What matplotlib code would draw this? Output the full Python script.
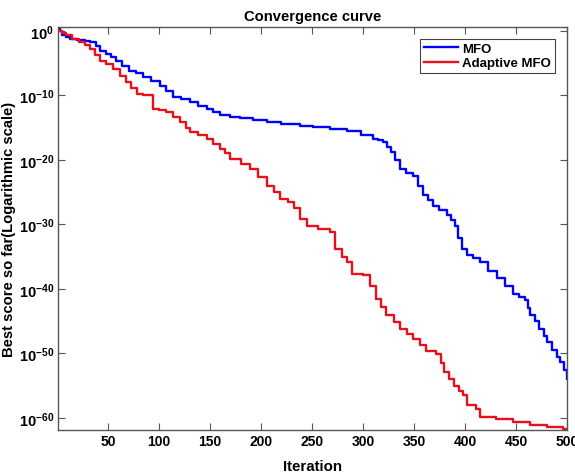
import numpy as np
import matplotlib
matplotlib.use("Agg")
import matplotlib.pyplot as plt

# ---- data (iteration, log10 of best score) ----
blue_iter = [1, 3, 5, 9, 13, 20, 27, 32, 38, 42, 48, 53, 58, 64, 71, 77, 84, 92, 101, 107,
             114, 122, 130, 138, 147, 153, 160, 170, 179, 192, 206, 220, 238, 251, 268, 284,
             298, 310, 315, 320, 324, 327, 331, 336, 342, 349, 354, 359, 364, 369, 375, 382,
             386, 390, 393, 397, 402, 408, 415, 423, 431, 439, 447, 453, 459, 462, 464, 469,
             473, 477, 480, 485, 490, 493, 497, 500]
blue_exp = [0.6, 0.0, -0.7, -1.0, -1.2, -1.4, -1.6, -1.75, -2.4, -3.05, -3.6, -4.0, -4.6, -5.4,
            -6.15, -6.6, -7.1, -7.8, -8.5, -9.3, -10.2, -10.6, -11.0, -11.6, -12.1, -12.6, -13.0,
            -13.3, -13.5, -13.8, -14.1, -14.4, -14.7, -14.9, -15.2, -15.6, -16.1, -16.7, -17.0,
            -17.3, -18.0, -18.8, -20.0, -21.4, -22.0, -22.5, -24.0, -25.5, -26.3, -27.1, -27.8,
            -28.6, -29.4, -30.2, -32.2, -33.8, -34.8, -35.3, -35.9, -37.2, -38.4, -39.6, -40.8,
            -41.3, -41.8, -43.0, -44.1, -45.0, -46.2, -47.3, -48.3, -49.5, -50.6, -51.3, -52.6,
            -54.0]

red_iter = [1, 5, 9, 15, 22, 27, 32, 37, 42, 48, 55, 62, 68, 73, 78, 84, 91, 94, 100, 107,
            114, 121, 126, 130, 138, 147, 153, 160, 165, 170, 180, 189, 197, 206, 213, 219,
            226, 232, 238, 245, 256, 268, 273, 279, 284, 289, 300, 307, 313, 318, 323, 330,
            336, 343, 349, 356, 362, 372, 376, 379, 384, 389, 394, 398, 402, 411, 415, 430,
            447, 464, 480, 496, 500]
red_exp = [0.0, -0.4, -0.7, -1.2, -1.75, -2.2, -2.8, -3.7, -4.6, -5.2, -5.9, -7.0, -8.0, -8.9,
           -9.8, -9.9, -10.0, -12.1, -12.3, -12.6, -13.4, -14.2, -15.0, -15.7, -16.2, -16.7,
           -17.5, -18.3, -19.0, -19.8, -20.6, -21.4, -22.6, -24.0, -25.0, -26.0, -26.5, -27.4,
           -29.1, -30.2, -30.7, -31.2, -33.8, -35.0, -35.9, -37.7, -37.9, -39.5, -41.6, -42.8,
           -44.1, -45.2, -46.2, -47.0, -47.8, -48.7, -49.6, -50.1, -51.5, -52.9, -54.0, -55.0,
           -55.8, -56.5, -58.1, -58.6, -59.9, -60.2, -60.6, -61.2, -61.5, -61.8, -61.9]

series_names = ["MFO", "Adaptive MFO"]
x_ticks = [50, 100, 150, 200, 250, 300, 350, 400, 450, 500]
y_tick_exps = [0, -10, -20, -30, -40, -50, -60]

# ---- style ----
plt.rcParams['font.family'] = ['Liberation Sans', 'DejaVu Sans']
plt.rcParams['font.weight'] = 'bold'
plt.rcParams['mathtext.fontset'] = 'custom'
plt.rcParams['mathtext.rm'] = 'Liberation Sans:bold'
plt.rcParams['mathtext.it'] = 'Liberation Sans:bold'
plt.rcParams['mathtext.bf'] = 'Liberation Sans:bold'

fig = plt.figure(figsize=(5.75, 4.77), dpi=100)
ax = fig.add_axes([58/575, 46/477, 509/575, 403/477])

blue_vals = 10.0 ** np.array(blue_exp)
red_vals = 10.0 ** np.array(red_exp)

ax.semilogy(blue_iter, blue_vals, color='#0000ff', lw=1.7, drawstyle='steps-post',
            label=series_names[0])
ax.semilogy(red_iter, red_vals, color='#e8101a', lw=1.7, drawstyle='steps-post',
            label=series_names[1])

ax.set_xlim(1, 500)
ax.set_ylim(red_vals.min(), blue_vals.max())

ax.set_xticks(x_ticks)
ax.set_xticklabels([str(t) for t in x_ticks], fontsize=10, fontweight='bold')
ax.set_yticks([10.0 ** e for e in y_tick_exps])
ax.set_yticklabels([r'$\mathbf{10^{%d}}$' % e for e in y_tick_exps], fontsize=10.5)
ax.minorticks_off()
ax.tick_params(direction='in', length=5, width=0.8, top=True, right=True,
               colors='#555555', labelcolor='black', pad=3)
for s in ax.spines.values():
    s.set_color('#555555')
    s.set_linewidth(1.0)

ax.set_title('Convergence curve', fontsize=10.6, fontweight='bold', pad=5)
ax.set_xlabel('Iteration', fontsize=10.8, fontweight='bold', labelpad=8)
ax.set_ylabel('Best score so far(Logarithmic scale)', fontsize=10.6, fontweight='bold',
              labelpad=2)

leg = ax.legend(loc='upper right', fontsize=9.5, fancybox=False, framealpha=1,
                edgecolor='#444444', handlelength=2.6, handletextpad=0.3,
                borderpad=0.3, labelspacing=0.15, borderaxespad=0.9)
leg.get_frame().set_linewidth(0.8)
for t in leg.get_texts():
    t.set_fontweight('bold')

fig.savefig('out.png', dpi=100)
